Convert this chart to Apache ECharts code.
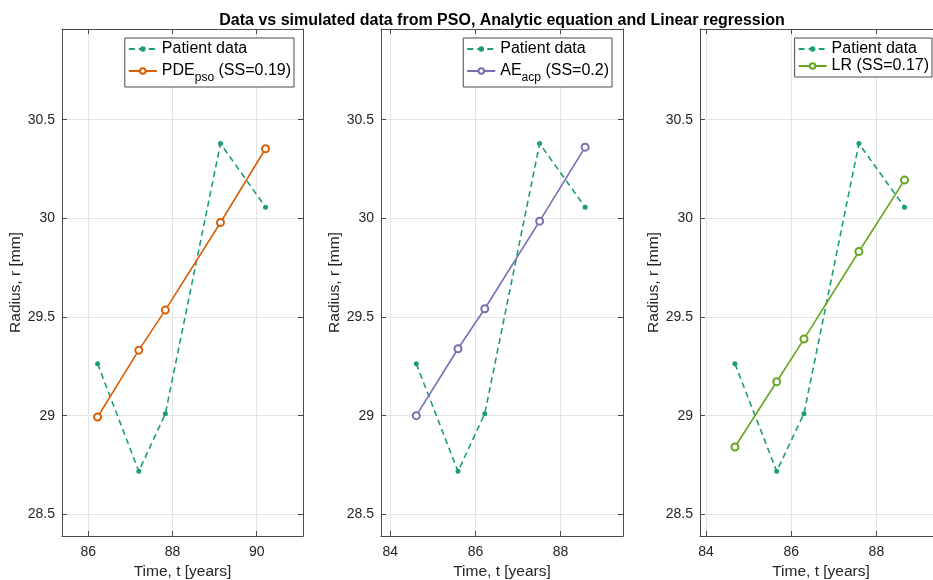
<!DOCTYPE html>
<html>
<head>
<meta charset="utf-8">
<script src="https://cdn.jsdelivr.net/npm/echarts@6/dist/echarts.min.js"></script>
<style>
html,body{margin:0;padding:0;background:#fff;}
#chart{width:933px;height:580px;}
</style>
</head>
<body>
<div id="chart"></div>
<script>
// ---- data ----
const titleText = 'Data vs simulated data from PSO, Analytic equation and Linear regression';
const patientR = [29.263, 28.718, 29.010, 30.379, 30.057];
const pdeTime = [86.22, 87.20, 87.83, 89.14, 90.21];
const pdeR = [28.993, 29.332, 29.535, 29.979, 30.353];
const aeTime = [84.61, 85.59, 86.22, 87.51, 88.58];
const aeR = [29.000, 29.339, 29.542, 29.986, 30.361];
const lrTime = [84.68, 85.66, 86.30, 87.59, 88.66];
const lrR = [28.841, 29.172, 29.388, 29.832, 30.194];
const xRanges = [[85.375, 91.1], [83.78, 89.47], [83.86, 89.54]];
const yRange = [28.39, 30.96];
const fitNames = ['PDE', 'AE', 'LR'];
const fitSubs = ['pso', 'acp', ''];
const fitSS = ['0.19', '0.2', '0.17'];
const patientName = 'Patient data';

// ---- styling ----
const cGreen = '#1b9e77', cOrange = '#d95f02', cPurple = '#7570b3', cLime = '#66a61e';
const fitColors = [cOrange, cPurple, cLime];
const axisColor = '#4a4a4a', textColor = '#262626', gridColor = '#e4e4e4';
const FONT = 'Liberation Sans, Arial, Helvetica, sans-serif';

const grids = [
  {left: 62, top: 29, width: 241, height: 507, outerBoundsMode: 'none', containLabel: false},
  {left: 381, top: 29, width: 242, height: 507, outerBoundsMode: 'none', containLabel: false},
  {left: 700, top: 29, width: 242, height: 507, outerBoundsMode: 'none', containLabel: false}
];
const legendRight = [639, 321, 1];

const xAxes = [], yAxes = [], series = [], legends = [];
for (let i = 0; i < 3; i++) {
  xAxes.push({
    gridIndex: i, type: 'value', position: 'bottom',
    min: xRanges[i][0], max: xRanges[i][1], minInterval: 2, maxInterval: 2,
    name: 'Time, t [years]', nameLocation: 'middle', nameGap: 27,
    nameTextStyle: {fontFamily: FONT, fontSize: 15.5, color: textColor},
    axisLine: {show: true, lineStyle: {color: axisColor, width: 1}},
    axisTick: {show: true, inside: true, length: 5, lineStyle: {color: axisColor}},
    axisLabel: {fontFamily: FONT, fontSize: 14, color: textColor, margin: 9, showMinLabel: false, showMaxLabel: false},
    splitLine: {show: true, lineStyle: {color: gridColor, width: 1}}
  });
  yAxes.push({
    gridIndex: i, type: 'value', position: 'left',
    min: yRange[0], max: yRange[1], minInterval: 0.5, maxInterval: 0.5,
    name: 'Radius, r [mm]', nameLocation: 'middle', nameGap: 36,
    nameTextStyle: {fontFamily: FONT, fontSize: 15.5, color: textColor},
    axisLine: {show: true, lineStyle: {color: axisColor, width: 1}},
    axisTick: {show: true, inside: true, length: 5, lineStyle: {color: axisColor}},
    axisLabel: {fontFamily: FONT, fontSize: 14, color: textColor, margin: 7, showMinLabel: false, showMaxLabel: false},
    splitLine: {show: true, lineStyle: {color: gridColor, width: 1}}
  });
}
for (let i = 0; i < 3; i++) {
  xAxes.push({
    gridIndex: i, type: 'value', position: 'top',
    min: xRanges[i][0], max: xRanges[i][1], minInterval: 2, maxInterval: 2,
    axisLine: {show: true, lineStyle: {color: axisColor, width: 1}},
    axisTick: {show: true, inside: true, length: 5, lineStyle: {color: axisColor}},
    axisLabel: {show: false}, splitLine: {show: false}
  });
  yAxes.push({
    gridIndex: i, type: 'value', position: 'right',
    min: yRange[0], max: yRange[1], minInterval: 0.5, maxInterval: 0.5,
    axisLine: {show: true, lineStyle: {color: axisColor, width: 1}},
    axisTick: {show: true, inside: true, length: 5, lineStyle: {color: axisColor}},
    axisLabel: {show: false}, splitLine: {show: false}
  });
}

const times = [pdeTime, aeTime, lrTime];
const fits = [pdeR, aeR, lrR];
function fitLabel(i) {
  return fitNames[i] + '_' + fitSubs[i] + ' (SS=' + fitSS[i] + ')';
}
for (let i = 0; i < 3; i++) {
  series.push({
    type: 'line', name: patientName, xAxisIndex: i, yAxisIndex: i,
    data: times[i].map((t, k) => [t, patientR[k]]),
    symbol: 'circle', symbolSize: 5, showSymbol: true,
    itemStyle: {color: cGreen},
    lineStyle: {color: cGreen, width: 1.6, type: [6, 4]},
    animation: false, z: 2
  });
  series.push({
    type: 'line', name: fitLabel(i), xAxisIndex: i, yAxisIndex: i,
    data: times[i].map((t, k) => [t, fits[i][k]]),
    symbol: 'emptyCircle', symbolSize: 7,
    itemStyle: {color: fitColors[i], borderColor: fitColors[i], borderWidth: 1.5},
    lineStyle: {color: fitColors[i], width: 1.6},
    animation: false, z: 3
  });
  legends.push({
    orient: 'vertical', right: legendRight[i], top: 38,
    data: [patientName, fitLabel(i)],
    backgroundColor: '#fff', borderColor: axisColor, borderWidth: 1,
    padding: [3, 3, 3, 3], itemGap: 1, itemWidth: 28, itemHeight: 7,
    selectedMode: false,
    formatter: function (name) {
      if (name === patientName) return '{t|' + name + '}';
      const j = fitNames.findIndex((n, k) => name === fitLabel(k));
      if (fitSubs[j]) return '{t|' + fitNames[j] + '}{s|' + fitSubs[j] + '}{t| (SS=' + fitSS[j] + ')}';
      return '{t|' + fitNames[j] + ' (SS=' + fitSS[j] + ')}';
    },
    textStyle: {
      fontFamily: FONT, fontSize: 16, color: '#000',
      rich: {
        t: {fontFamily: FONT, fontSize: 16, color: '#000', lineHeight: 20},
        s: {fontFamily: FONT, fontSize: 12, color: '#000', lineHeight: 14, padding: [14, 0, 0, 0]}
      }
    }
  });
}

const chart = echarts.init(document.getElementById('chart'), null, {renderer: 'canvas'});
chart.setOption({
  backgroundColor: '#fff',
  animation: false,
  title: {
    text: titleText, left: 497, top: 8, textAlign: 'center',
    textStyle: {fontFamily: FONT, fontSize: 16, fontWeight: 'bold', color: '#000'}
  },
  grid: grids,
  xAxis: xAxes,
  yAxis: yAxes,
  legend: legends,
  series: series
});
</script>
</body>
</html>
